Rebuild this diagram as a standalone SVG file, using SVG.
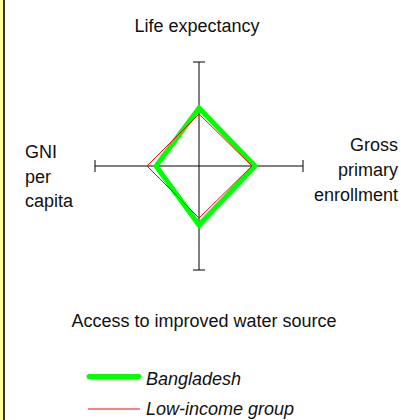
<svg xmlns="http://www.w3.org/2000/svg" width="401" height="420" viewBox="0 0 401 420">
<style>
text{font-family:"Liberation Sans",Arial,sans-serif;font-size:18px;fill:#111}
.axis{stroke:#000;stroke-width:1;fill:none}
.bd{stroke:#00ff00;stroke-width:5;fill:none;stroke-linejoin:miter}
.li{stroke:#ff0000;stroke-width:1;fill:none}
.leg{font-style:italic}
</style>
<rect x="0" y="0" width="401" height="420" fill="#fff"/>
<rect x="0" y="0" width="3" height="420" fill="#ffff9c"/>
<rect x="3" y="0" width="2" height="420" fill="#333"/>
<g id="axes">
<line class="axis" x1="199" y1="62" x2="199" y2="270"/>
<line class="axis" x1="95" y1="166" x2="303" y2="166"/>
<line class="axis" x1="193" y1="62" x2="205" y2="62"/>
<line class="axis" x1="193" y1="270" x2="205" y2="270"/>
<line class="axis" x1="95" y1="160" x2="95" y2="172"/>
<line class="axis" x1="303" y1="160" x2="303" y2="172"/>
</g>
<g id="series">
<polygon id="bangladesh" class="bd" points="199,108 255,166 199,225 156,166"/>
<polygon id="lowincome" class="li" points="199,114 252,166 199,218 147,166"/>
</g>
<g id="labels">
<text x="197" y="31.5" text-anchor="middle">Life expectancy</text>
<text x="25" y="158">GNI</text>
<text x="25" y="182.5">per</text>
<text x="25" y="207">capita</text>
<text x="398" y="151" text-anchor="end">Gross</text>
<text x="398" y="176" text-anchor="end">primary</text>
<text x="398" y="201" text-anchor="end">enrollment</text>
<text x="204" y="326.5" text-anchor="middle">Access to improved water source</text>
</g>
<g id="legend">
<line x1="89" y1="376.5" x2="139" y2="376.5" stroke="#00ff00" stroke-width="5" stroke-linecap="round"/>
<text class="leg" x="146" y="385">Bangladesh</text>
<line x1="88" y1="409" x2="140" y2="409" stroke="#ff0000" stroke-width="1"/>
<text class="leg" x="146" y="415">Low-income group</text>
</g>
</svg>
